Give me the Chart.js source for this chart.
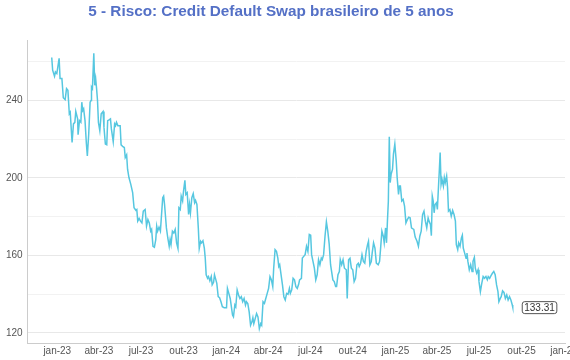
<!DOCTYPE html>
<html>
<head>
<meta charset="utf-8">
<script src="https://cdn.jsdelivr.net/npm/chart.js@4.4.1/dist/chart.umd.min.js"></script>
<style>
  html, body { margin: 0; padding: 0; background: #fff; }
  #wrap { position: relative; width: 570px; height: 360px; }
</style>
</head>
<body>
<div id="wrap"><canvas id="c" width="570" height="360"></canvas></div>
<script>
const chartTitle = '5 - Risco: Credit Default Swap brasileiro de 5 anos';

const dates = [
'2022-12-20','2022-12-22','2022-12-26','2022-12-28','2022-12-31','2023-01-05','2023-01-07','2023-01-11','2023-01-14','2023-01-18',
'2023-01-21','2023-01-24','2023-01-27','2023-01-29','2023-02-02','2023-02-05','2023-02-08','2023-02-10','2023-02-14','2023-02-15',
'2023-02-18','2023-02-21','2023-02-23','2023-02-25','2023-02-27','2023-03-02','2023-03-05','2023-03-07','2023-03-10','2023-03-13',
'2023-03-15','2023-03-16','2023-03-18','2023-03-21','2023-03-23','2023-03-25','2023-03-27','2023-03-29','2023-03-31','2023-04-03',
'2023-04-06','2023-04-10','2023-04-12','2023-04-15','2023-04-18','2023-04-20','2023-04-23','2023-04-26','2023-04-28','2023-05-02',
'2023-05-05','2023-05-07','2023-05-09','2023-05-12','2023-05-15','2023-05-17','2023-05-19','2023-05-23','2023-05-26','2023-05-28',
'2023-05-31','2023-06-02','2023-06-05','2023-06-09','2023-06-13','2023-06-16','2023-06-20','2023-06-22','2023-06-24','2023-06-27',
'2023-06-30','2023-07-03','2023-07-06','2023-07-10','2023-07-13','2023-07-16','2023-07-19','2023-07-22','2023-07-24','2023-07-27',
'2023-07-30','2023-08-02','2023-08-04','2023-08-06','2023-08-09','2023-08-12','2023-08-14','2023-08-17','2023-08-19','2023-08-21',
'2023-08-25','2023-08-28','2023-08-31','2023-09-02','2023-09-04','2023-09-07','2023-09-10','2023-09-13','2023-09-16','2023-09-19',
'2023-09-21','2023-09-24','2023-09-26','2023-09-29','2023-10-01','2023-10-04','2023-10-06','2023-10-09','2023-10-12','2023-10-14',
'2023-10-16','2023-10-19','2023-10-22','2023-10-25','2023-10-27','2023-10-30','2023-11-02','2023-11-04','2023-11-07','2023-11-09',
'2023-11-12','2023-11-15','2023-11-17','2023-11-19','2023-11-22','2023-11-24','2023-11-27','2023-11-30','2023-12-02','2023-12-05',
'2023-12-07','2023-12-10','2023-12-12','2023-12-15','2023-12-18','2023-12-21','2023-12-24','2023-12-28','2024-01-02','2024-01-04',
'2024-01-07','2024-01-10','2024-01-15','2024-01-17','2024-01-20','2024-01-22','2024-01-25','2024-01-28','2024-01-31','2024-02-03',
'2024-02-06','2024-02-09','2024-02-12','2024-02-14','2024-02-17','2024-02-20','2024-02-23','2024-02-26','2024-02-28','2024-03-01',
'2024-03-04','2024-03-07','2024-03-10','2024-03-13','2024-03-16','2024-03-18','2024-03-21','2024-03-24','2024-03-26','2024-03-30',
'2024-04-02','2024-04-05','2024-04-08','2024-04-11','2024-04-13','2024-04-16','2024-04-19','2024-04-22','2024-04-24','2024-04-26',
'2024-04-29','2024-05-02','2024-05-05','2024-05-08','2024-05-11','2024-05-14','2024-05-17','2024-05-19','2024-05-22','2024-05-25',
'2024-05-28','2024-05-31','2024-06-03','2024-06-06','2024-06-08','2024-06-12','2024-06-14','2024-06-17','2024-06-20','2024-06-23',
'2024-06-26','2024-06-29','2024-07-02','2024-07-04','2024-07-07','2024-07-10','2024-07-13','2024-07-16','2024-07-19','2024-07-22',
'2024-07-25','2024-07-27','2024-07-30','2024-08-02','2024-08-05','2024-08-08','2024-08-11','2024-08-14','2024-08-19','2024-08-22',
'2024-08-25','2024-08-27','2024-08-30','2024-09-02','2024-09-04','2024-09-07','2024-09-10','2024-09-13','2024-09-17','2024-09-19',
'2024-09-22','2024-09-25','2024-09-28','2024-10-01','2024-10-04','2024-10-07','2024-10-10','2024-10-13','2024-10-15','2024-10-18',
'2024-10-21','2024-10-24','2024-10-27','2024-10-30','2024-11-02','2024-11-04','2024-11-07','2024-11-10','2024-11-12','2024-11-15',
'2024-11-18','2024-11-21','2024-11-25','2024-11-28','2024-11-30','2024-12-03','2024-12-06','2024-12-08','2024-12-11','2024-12-13',
'2024-12-15','2024-12-17','2024-12-19','2024-12-21','2024-12-23','2024-12-26','2024-12-28','2024-12-31','2025-01-03','2025-01-05',
'2025-01-08','2025-01-10','2025-01-12','2025-01-15','2025-01-18','2025-01-21','2025-01-24','2025-01-27','2025-01-30','2025-02-02',
'2025-02-05','2025-02-07','2025-02-10','2025-02-13','2025-02-17','2025-02-20','2025-02-23','2025-02-26','2025-03-01','2025-03-04',
'2025-03-07','2025-03-10','2025-03-13','2025-03-15','2025-03-18','2025-03-20','2025-03-22','2025-03-24','2025-03-26','2025-03-28',
'2025-03-31','2025-04-02','2025-04-05','2025-04-06','2025-04-08','2025-04-10','2025-04-12','2025-04-15','2025-04-17','2025-04-19',
'2025-04-22','2025-04-24','2025-04-26','2025-04-29','2025-05-02','2025-05-05','2025-05-08','2025-05-11','2025-05-13','2025-05-16',
'2025-05-18','2025-05-21','2025-05-24','2025-05-26','2025-05-28','2025-05-31','2025-06-03','2025-06-05','2025-06-07','2025-06-10',
'2025-06-13','2025-06-16','2025-06-18','2025-06-21','2025-06-23','2025-06-26','2025-06-29','2025-07-01','2025-07-04','2025-07-07',
'2025-07-10','2025-07-13','2025-07-16','2025-07-19','2025-07-21','2025-07-24','2025-07-27','2025-07-30','2025-08-02','2025-08-05',
'2025-08-08','2025-08-11','2025-08-13','2025-08-16','2025-08-18','2025-08-21','2025-08-24','2025-08-27','2025-08-30','2025-09-02',
'2025-09-05','2025-09-08','2025-09-11','2025-09-12'
];

const cdsValues = [
262.2,255.6,252.5,254.7,253.9,261.7,251.3,251.3,241.4,240.4,
246.1,245.2,233.1,233.9,218.3,227.9,228.7,234.4,230.5,222.3,
229.6,228.7,239.1,234.8,235.7,229.6,217.5,211.4,222.7,239.1,
240.0,246.9,246.1,264.3,247.8,251.3,246.1,240.0,228.7,224.4,
233.1,234.3,226.1,217.5,217.1,229.6,230.0,230.5,225.3,218.7,
227.9,227.0,228.7,227.0,227.0,227.0,217.1,216.1,215.7,210.5,
211.9,204.5,200.2,196.7,192.4,184.6,183.3,183.7,177.7,179.1,
177.7,176.8,182.9,183.7,175.1,178.5,176.8,172.5,173.4,164.7,
164.2,168.2,175.1,172.5,174.5,172.5,179.4,189.8,190.6,186.3,
174.2,169.0,164.7,168.2,165.6,172.5,171.6,173.4,166.5,163.6,
184.6,183.7,190.6,188.1,193.2,198.8,191.5,192.4,181.1,186.3,
182.0,189.8,191.9,187.2,188.4,186.3,174.2,163.6,167.3,166.5,
167.6,163.8,158.6,150.0,148.2,149.1,146.9,149.1,144.8,146.1,
150.0,147.4,145.6,138.7,138.2,136.1,133.5,133.0,133.0,143.0,
140.4,137.8,129.2,128.3,134.4,133.5,142.2,139.6,137.8,138.7,
136.1,137.8,134.4,136.1,135.2,130.9,124.0,125.7,127.8,124.8,
127.4,130.0,128.3,122.2,124.8,124.0,136.1,135.2,137.0,140.4,
143.0,149.1,147.4,143.9,153.4,163.0,162.1,158.6,154.3,155.2,
150.0,144.8,138.7,137.0,140.4,139.9,143.0,140.4,142.2,148.2,
147.4,143.9,143.0,145.1,147.4,148.2,158.6,159.5,160.4,164.7,
162.1,170.8,170.4,160.4,156.9,153.4,147.4,150.0,157.8,155.2,
158.6,157.8,160.4,169.9,177.3,172.5,166.0,155.2,147.4,146.5,
143.9,143.9,150.0,151.7,157.8,155.2,157.8,153.4,152.6,137.8,
157.8,158.6,153.4,152.6,146.5,148.2,155.2,156.0,154.3,156.0,
160.4,156.9,156.0,162.1,165.6,167.3,155.2,156.9,161.2,166.5,
163.8,156.0,155.2,156.9,163.0,172.5,169.9,166.5,174.2,166.5,
177.7,188.1,221.3,197.6,201.9,204.5,212.3,217.5,208.8,200.2,
191.5,195.8,195.8,188.1,188.9,185.5,176.8,178.5,179.7,179.4,
174.2,173.9,173.4,169.5,167.3,164.7,169.9,172.5,181.1,182.9,
177.7,174.2,179.4,177.7,176.0,170.2,190.6,188.1,182.0,186.3,
187.2,183.7,198.4,202.8,213.1,196.7,199.3,195.8,200.2,197.6,
201.0,195.0,182.9,183.7,180.3,183.2,181.1,177.7,165.6,163.0,
166.5,164.7,169.0,170.4,163.8,161.2,158.6,161.2,156.9,152.6,
155.2,151.7,156.9,159.0,153.4,150.8,152.6,146.5,141.3,145.6,
149.1,148.2,149.1,147.4,149.1,148.2,149.6,150.8,151.7,150.0,
144.8,141.3,136.1,137.8,138.7,141.7,140.9,137.8,139.6,137.0,
138.7,137.0,134.4,133.31
];

const xTickDates = ['2023-01-01','2023-04-01','2023-07-01','2023-10-01','2024-01-01','2024-04-01','2024-07-01',
                    '2024-10-01','2025-01-01','2025-04-01','2025-07-01','2025-10-01','2026-01-01'];
const xTickLabels = ['jan-23','abr-23','jul-23','out-23','jan-24','abr-24','jul-24',
                     'out-24','jan-25','abr-25','jul-25','out-25','jan-26'];
const xRange = ['2022-10-29','2026-01-03'];

const yTicks = [120, 140, 160, 180, 200, 220, 240, 260];
const yLabelStep = 40;
const yRange = [114.8, 271.2];

const DAY = 86400000;
const toDay = s => { const [y, m, d] = s.split('-').map(Number); return Date.UTC(y, m - 1, d) / DAY; };

const points = dates.map((d, i) => ({ x: toDay(d), y: cdsValues[i] }));
const tickDays = xTickDates.map(toDay);

const FONT = '"Liberation Sans", Arial, Helvetica, sans-serif';

const titlePlugin = {
  id: 'customTitle',
  afterDraw(chart) {
    const ctx = chart.ctx;
    ctx.save();
    ctx.font = 'bold 15.3px ' + FONT;
    ctx.fillStyle = '#5470c6';
    ctx.textAlign = 'center';
    ctx.textBaseline = 'middle';
    ctx.fillText(chartTitle, 271, 12);
    ctx.restore();
  }
};

const endLabelPlugin = {
  id: 'endLabel',
  afterDatasetsDraw(chart) {
    const meta = chart.getDatasetMeta(0);
    const last = meta.data[meta.data.length - 1];
    if (!last) return;
    const txt = cdsValues[cdsValues.length - 1].toFixed(2);
    const ctx = chart.ctx;
    ctx.save();
    ctx.font = '10px ' + FONT;
    const w = ctx.measureText(txt).width + 4;
    const h = 12;
    const x = last.x + 9;
    const y = last.y - h / 2;
    ctx.beginPath();
    if (ctx.roundRect) ctx.roundRect(x + 0.5, y + 0.5, w, h, 2.5); else ctx.rect(x + 0.5, y + 0.5, w, h);
    ctx.fillStyle = '#ffffff';
    ctx.fill();
    ctx.lineWidth = 1;
    ctx.strokeStyle = '#555555';
    ctx.stroke();
    ctx.fillStyle = '#333333';
    ctx.textAlign = 'center';
    ctx.textBaseline = 'middle';
    ctx.fillText(txt, x + 0.5 + w / 2, last.y + 1);
    ctx.restore();
  }
};

new Chart(document.getElementById('c'), {
  type: 'line',
  data: {
    datasets: [{
      label: 'CDS 5 anos',
      data: points,
      borderColor: '#56c7e0',
      borderWidth: 1.5,
      pointRadius: 0,
      pointHoverRadius: 0,
      tension: 0,
      fill: false
    }]
  },
  options: {
    responsive: false,
    animation: false,
    events: [],
    layout: { padding: { top: 40, left: 1, right: 5, bottom: 1 } },
    plugins: {
      legend: { display: false },
      title: { display: false },
      tooltip: { enabled: false }
    },
    scales: {
      x: {
        type: 'linear',
        min: toDay(xRange[0]),
        max: toDay(xRange[1]),
        afterBuildTicks(scale) { scale.ticks = tickDays.map(v => ({ value: v })); },
        afterFit(scale) { scale.paddingLeft = 0; scale.paddingRight = 0; },
        grid: { display: false, drawTicks: false },
        border: { display: true, color: '#cccccc', width: 1 },
        ticks: {
          autoSkip: false,
          maxRotation: 0,
          padding: 2,
          color: '#555555',
          font: { family: FONT, size: 10 },
          callback(v) { const i = tickDays.indexOf(v); return i >= 0 ? xTickLabels[i] : ''; }
        }
      },
      y: {
        min: yRange[0],
        max: yRange[1],
        afterBuildTicks(scale) { scale.ticks = yTicks.map(v => ({ value: v })); },
        grid: {
          drawTicks: false,
          color: c => (c.tick && c.tick.value % yLabelStep === 0) ? '#e8e8e8' : '#f2f2f2',
          lineWidth: 1
        },
        border: { display: true, color: '#cccccc', width: 1 },
        ticks: {
          padding: 5,
          color: '#555555',
          font: { family: FONT, size: 10 },
          callback(v) { return v % yLabelStep === 0 ? String(v) : ''; }
        }
      }
    }
  },
  plugins: [titlePlugin, endLabelPlugin]
});
</script>
</body>
</html>
